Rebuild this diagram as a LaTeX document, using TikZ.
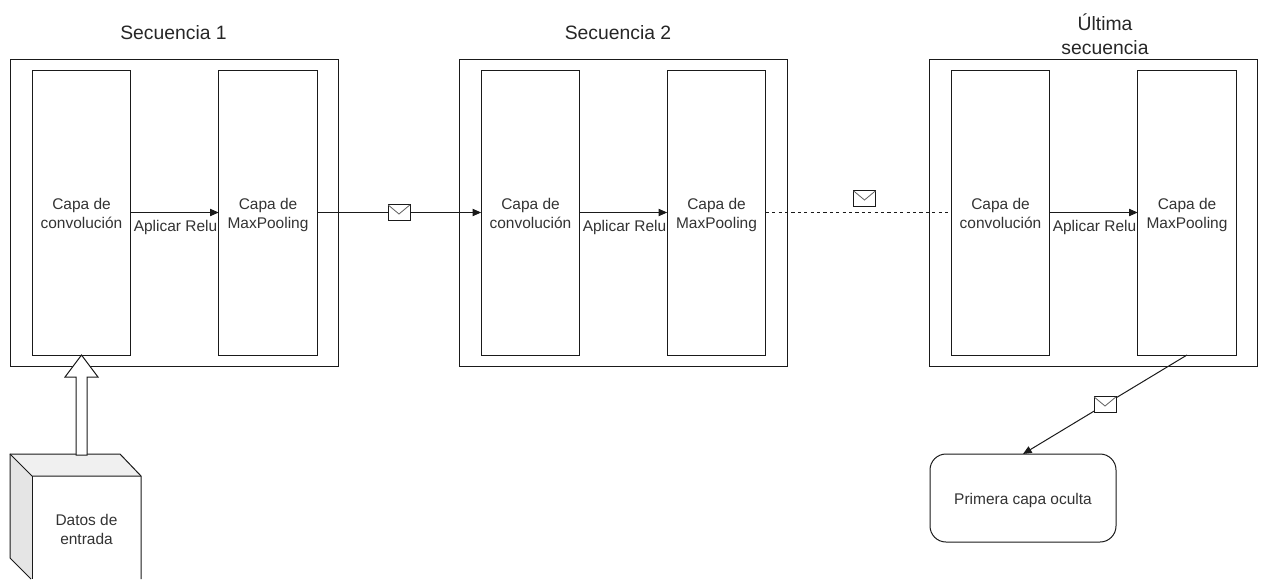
\documentclass[tikz,border=0pt]{standalone}
\usepackage{fontspec}
\setmainfont{Liberation Sans}
\usetikzlibrary{arrows.meta,calc}
\definecolor{ink}{HTML}{1A1A1A}
\definecolor{txt}{HTML}{333333}
\tikzset{
  x=0.75pt,y=-0.75pt,
  every node/.style={font=\fontsize{11.6}{14.2}\selectfont,text=txt,align=center,inner sep=0pt,outer sep=0pt},
  outerbox/.style={draw=ink,line width=0.75pt,fill=white,minimum width=246pt,minimum height=230.25pt},
  layerbox/.style={draw=ink,line width=0.75pt,fill=white,minimum width=74pt,minimum height=213.75pt},
  title/.style={font=\fontsize{14.5}{18}\selectfont,text=black!85},
  flow/.style={draw=ink,line width=0.75pt,-{Triangle[length=6.5pt,width=5.5pt]}},
  dotlink/.style={draw=ink,line width=0.75pt,dash pattern=on 2.4pt off 2.4pt},
  msg/.style={draw=ink,line width=0.75pt,fill=white,minimum width=16.5pt,minimum height=11.5pt},
  flap/.style={draw=ink!70,line width=0.6pt}
}
\newcommand{\envelope}[1]{\draw[flap] (#1.north west) -- ($(#1.center)+(0,1.5)$) -- (#1.north east);}
\newcommand{\lay}[2]{\rule{0pt}{15pt}#1\\#2\rule[-5pt]{0pt}{5pt}}
\begin{document}
\begin{tikzpicture}
\useasboundingbox (0,0) rectangle (1266,579);
% Secuencia 1
\node[outerbox] (s1) at (174,212.5) {};
\node[layerbox] (c1) at (81.5,212.5) {\lay{Capa de}{convolución}};
\node[layerbox] (m1) at (268,212.5) {\lay{Capa de}{MaxPooling}};
\draw[flow] (c1.east) -- (m1.west);
\node (r1) at (175.5,227) {Aplicar Relu};
\node[title] (t1) at (173.5,33) {Secuencia 1};
% Secuencia 2
\node[outerbox] (s2) at (623,212.5) {};
\node[layerbox] (c2) at (530.5,212.5) {\lay{Capa de}{convolución}};
\node[layerbox] (m2) at (716.5,212.5) {\lay{Capa de}{MaxPooling}};
\draw[flow] (c2.east) -- (m2.west);
\node (r2) at (624.5,227) {Aplicar Relu};
\node[title] (t2) at (618,33) {Secuencia 2};
% Ultima secuencia
\node[outerbox] (s3) at (1093,212.5) {};
\node[layerbox] (c3) at (1000.5,212.5) {\lay{Capa de}{convolución}};
\node[layerbox] (m3) at (1187,212.5) {\lay{Capa de}{MaxPooling}};
\draw[flow] (c3.east) -- (m3.west);
\node (r3) at (1094.5,227) {Aplicar Relu};
\node[title] (t3) at (1105,34) {Última\\secuencia};
% Links between sequences
\draw[flow] (m1.east) -- (c2.west);
\draw[dotlink] (m2.east) -- (c3.west);
\node[msg] (e1) at (399,212.5) {};
\envelope{e1}
\node[msg] (e2) at (864.5,198.5) {};
\envelope{e2}
% Hidden layer
\node[draw=ink,line width=0.75pt,fill=white,rounded corners=12pt,minimum width=139.5pt,minimum height=66pt] (h) at (1023,498) {\rule{0pt}{12pt}Primera capa oculta};
\draw[flow] (m3.south) -- (h.north);
\node[msg] (e3) at (1105,404.5) {};
\envelope{e3}
% Data cube
\fill[black!10] (10,454) -- (32,476) -- (32,579) -- (10,558) -- cycle;
\fill[black!6] (10,454) -- (120,454) -- (141,476) -- (32,476) -- cycle;
\draw[ink,line width=0.75pt] (10,558) -- (10,454) -- (120,454) -- (141,476) -- (141,579);
\draw[ink,line width=0.75pt] (10,454) -- (32,476) -- (141,476);
\draw[ink,line width=0.75pt] (32,476) -- (32,579);
\draw[ink,line width=0.75pt] (10,558) -- (31,579);
\node (d) at (86.5,529.5) {Datos de\\entrada};
\coordinate (dtop) at (81.5,455);
% Big arrow from data to first layer
\draw[ink,line width=0.75pt,fill=white,line join=miter] ($(dtop)+(-5.5,0)$) -- ($(dtop)+(-5.5,-78)$) -- ($(dtop)+(-16.5,-78)$) -- (c1.south) -- ($(dtop)+(16.5,-78)$) -- ($(dtop)+(5.5,-78)$) -- ($(dtop)+(5.5,0)$) -- cycle;
\end{tikzpicture}
\end{document}
